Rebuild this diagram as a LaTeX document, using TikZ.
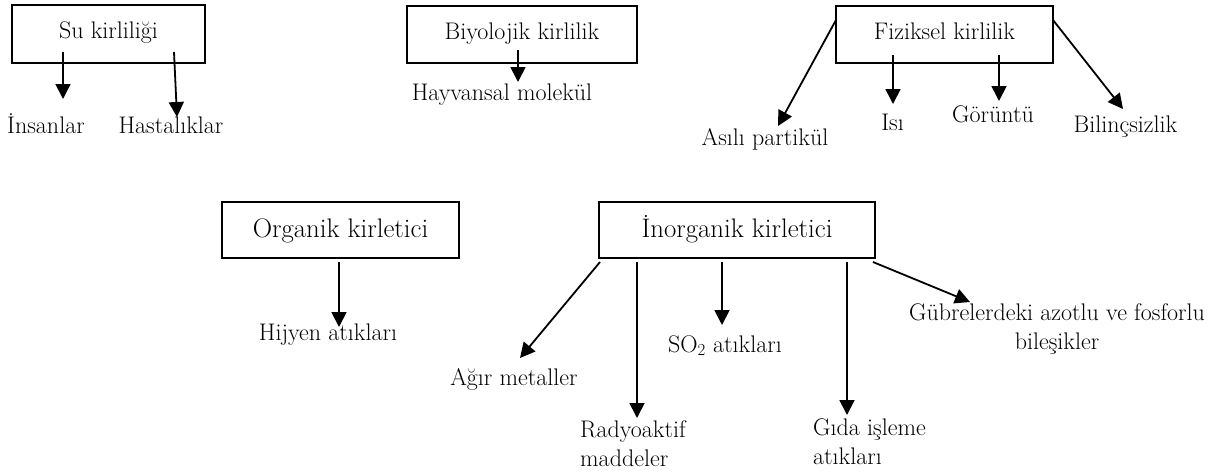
\documentclass[tikz,border=0pt]{standalone}
\usepackage{fontspec}
\usetikzlibrary{arrows.meta}
\begin{document}
\begin{tikzpicture}[x=1pt,y=-1pt,
  frame/.style={draw, line width=1.8pt, inner sep=0pt, outer sep=0pt, anchor=center},
  toptext/.style={font=\fontsize{24}{29}\selectfont, text height=16pt, text depth=7pt},
  lowtext/.style={font=\fontsize{26.8}{32}\selectfont, text height=18pt, text depth=3pt},
  lbl/.style={font=\fontsize{24}{29}\selectfont, inner sep=0pt, anchor=base},
  multi/.style={font=\fontsize{24}{29}\selectfont, inner sep=0pt},
  arr/.style={line width=1.8pt, -{Triangle[length=15pt,width=15pt]}}
]
\useasboundingbox (0,0) rectangle (1217,474);

% category boxes
\node[frame, toptext, minimum width=193pt, minimum height=58pt] (su) at (108.5,34) {Su kirliliği};
\node[frame, toptext, minimum width=230pt, minimum height=57pt] (bio) at (522,34.5) {Biyolojik kirlilik};
\node[frame, toptext, minimum width=217pt, minimum height=57pt] (fiz) at (944.5,34.5) {Fiziksel kirlilik};
\node[frame, lowtext, minimum width=237pt, minimum height=56pt] (org) at (340.5,230) {Organik kirletici};
\node[frame, lowtext, minimum width=276pt, minimum height=56pt] (inorg) at (737,230) {İnorganik kirletici};

% item labels
\node[lbl] (ins) at (46,133) {İnsanlar};
\node[lbl] (has) at (171,133) {Hastalıklar};
\node[lbl] (hay) at (502,100) {Hayvansal molekül};
\node[lbl] (asi) at (765,145) {Asılı partikül};
\node[lbl] (isi) at (892.5,130) {Isı};
\node[lbl] (gor) at (993,122) {Görüntü};
\node[lbl] (bil) at (1125.5,132) {Bilinçsizlik};
\node[lbl] (hij) at (328,340) {Hijyen atıkları};
\node[lbl] (agi) at (514,385) {Ağır metaller};
\node[lbl] (so2) at (725,352) {SO\textsubscript{2} atıkları};
\node[multi, anchor=north west, align=left] (rad) at (580,420.5) {Radyoaktif\\maddeler};
\node[multi, anchor=north west, align=left] (gida) at (813,418.5) {Gıda işleme\\atıkları};
\node[multi, anchor=north, align=center] (gub) at (1057,303.5) {Gübrelerdeki azotlu ve fosforlu\\bileşikler};

% arrow tips
\coordinate (t1) at (63,99);
\coordinate (t2) at (177,117);
\coordinate (t3) at (518,82);
\coordinate (t4) at (778,126);
\coordinate (t5) at (893,104);
\coordinate (t6) at (999,101);
\coordinate (t7) at (1123,109);
\coordinate (t8) at (339,327);
\coordinate (t9) at (520,358);
\coordinate (t10) at (637,418);
\coordinate (t11) at (722,325);
\coordinate (t12) at (847,415);
\coordinate (t13) at (970,302);

% connectors
\draw[arr] ([shift={(51,-11)}]su.south west) -- (t1);
\draw[arr] ([shift={(162,-11)}]su.south west) -- (t2);
\draw[arr] ([shift={(111,-13)}]bio.south west) -- (t3);
\draw[arr] ([shift={(0,14)}]fiz.north west) -- (t4);
\draw[arr] ([shift={(57,-8)}]fiz.south west) -- (t5);
\draw[arr] ([shift={(163,-8)}]fiz.south west) -- (t6);
\draw[arr] ([shift={(0,14)}]fiz.north east) -- (t7);
\draw[arr] ([shift={(117,4)}]org.south west) -- (t8);
\draw[arr] ([shift={(1,4)}]inorg.south west) -- (t9);
\draw[arr] ([shift={(38,4)}]inorg.south west) -- (t10);
\draw[arr] ([shift={(123,4)}]inorg.south west) -- (t11);
\draw[arr] ([shift={(248,4)}]inorg.south west) -- (t12);
\draw[arr] ([shift={(-2,4)}]inorg.south east) -- (t13);
\end{tikzpicture}
\end{document}
